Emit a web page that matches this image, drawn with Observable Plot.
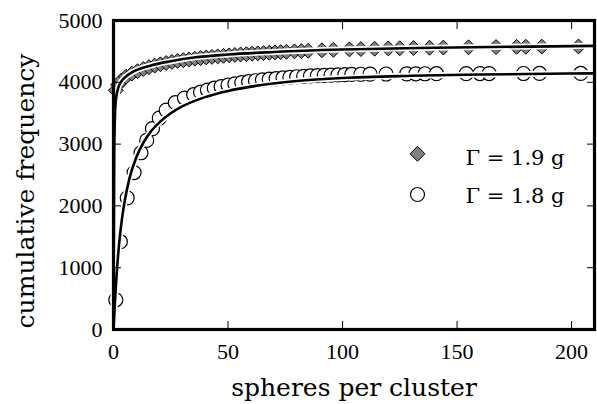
<!DOCTYPE html>
<html><head><meta charset="utf-8">
<script src="https://cdn.jsdelivr.net/npm/d3@7"></script>
<script src="https://cdn.jsdelivr.net/npm/@observablehq/plot@0.6"></script>
<style>
html,body{margin:0;padding:0;background:#fff;}
#chart svg{display:block;}
#chart g[aria-label="x-axis tick label"] text,
#chart g[aria-label="y-axis tick label"] text{font-family:"Liberation Serif","Times New Roman",serif;font-size:22px;}
</style>
</head><body><div id="chart"></div>
<script>
// Γ = 1.9 g (diamonds)
const sizes19 = [1, 2, 3.5, 5.5, 8, 10.5, 13, 15.5, 18, 20.5, 23, 25.5, 28, 30.5, 33, 35.5, 38, 40.5, 43, 45.5, 48, 50.5, 53, 55.5, 58, 60.5, 63, 65.5, 68, 70.5, 73, 75.5, 79, 82, 85, 91, 96, 103, 108, 114, 120, 125, 131, 138, 144, 155, 167, 176, 180, 187, 203];
const freq19 = [3870, 3960, 4030, 4090, 4140, 4180, 4215, 4245, 4270, 4292, 4312, 4330, 4345, 4358, 4370, 4382, 4392, 4402, 4411, 4420, 4428, 4436, 4443, 4450, 4456, 4462, 4468, 4473, 4478, 4483, 4488, 4493, 4500, 4505, 4510, 4518, 4525, 4533, 4538, 4543, 4548, 4551, 4555, 4559, 4562, 4567, 4571, 4574, 4575, 4577, 4580];
// Γ = 1.8 g (circles)
const sizes18 = [1, 3, 6, 9, 12, 14.5, 17, 20, 23, 27, 31, 35, 38, 41, 44, 47, 50, 53, 56, 59, 62, 65, 68, 71, 74, 77, 80, 83, 86, 89, 92, 95, 98, 101, 104, 108, 112, 119, 128, 132, 136, 141, 154, 160, 164, 179, 186, 204];
const freq18 = [480, 1420, 2130, 2540, 2860, 3060, 3250, 3420, 3550, 3670, 3745, 3800, 3840, 3875, 3905, 3930, 3955, 3975, 3995, 4010, 4025, 4040, 4050, 4060, 4070, 4080, 4090, 4097, 4103, 4108, 4113, 4117, 4120, 4124, 4127, 4130, 4132, 4134, 4136, 4137, 4138, 4139, 4140, 4141, 4141, 4142, 4143, 4144];
// fitted curves
const fitX19 = [0, 0.3, 0.6, 1, 2, 3, 5, 8, 12, 17, 25, 35, 50, 70, 100, 140, 210];
const fitY19 = [0, 2800, 3400, 3700, 3900, 3990, 4080, 4160, 4225, 4280, 4340, 4400, 4450, 4490, 4530, 4560, 4590];
const fitX18 = [0, 0.5, 1, 2, 3, 4, 5, 7, 10, 13, 16, 20, 25, 30, 40, 50, 60, 80, 100, 130, 160, 210];
const fitY18 = [0, 350, 680, 1200, 1580, 1870, 2100, 2450, 2790, 3020, 3190, 3350, 3500, 3610, 3760, 3860, 3930, 4020, 4070, 4105, 4125, 4145];
const xTicks = [0, 50, 100, 150, 200];
const yTicks = [0, 1000, 2000, 3000, 4000, 5000];
const seriesLabels = ["Γ = 1.9 g", "Γ = 1.8 g"];
const xLabel = "spheres per cluster";
const yLabel = "cumulative frequency";

const toRows = (xs, ys) => xs.map((x, i) => ({x, y: ys[i]}));
const d19 = toRows(sizes19, freq19), d18 = toRows(sizes18, freq18);
const f19 = toRows(fitX19, fitY19), f18 = toRows(fitX18, fitY18);
const labelFont = "DejaVu Serif";
const tickFont = {fontFamily: "Liberation Serif", fontSize: 22};

const chart = Plot.plot({
  width: 597, height: 404,
  marginLeft: 113, marginRight: 3, marginTop: 20, marginBottom: 75,
  style: {fontFamily: "Liberation Serif", fontSize: "22px", background: "white", color: "black"},
  x: {domain: [0, 210]},
  y: {domain: [0, 5000]},
  marks: [
    Plot.dot(d19, {x: "x", y: "y", symbol: "diamond2", r: 6.7, fill: "#808080", stroke: "black", strokeWidth: 1}),
    Plot.dot(d18, {x: "x", y: "y", symbol: "circle", r: 7, fill: "white", stroke: "black", strokeWidth: 1.2}),
    Plot.line(f19, {x: "x", y: "y", curve: "monotone-x", stroke: "white", strokeWidth: 6}),
    Plot.line(f19, {x: "x", y: "y", curve: "monotone-x", stroke: "black", strokeWidth: 2.6}),
    Plot.line(f18, {x: "x", y: "y", curve: "monotone-x", stroke: "white", strokeWidth: 6}),
    Plot.line(f18, {x: "x", y: "y", curve: "monotone-x", stroke: "black", strokeWidth: 2.6}),
    Plot.axisX(xTicks, {anchor: "bottom", tickSize: -8, tickPadding: 21.5, tickFormat: d => String(d), label: null, ...tickFont}),
    Plot.axisX(xTicks, {anchor: "top", tickSize: -8, tickFormat: () => "", label: null}),
    Plot.axisY(yTicks, {anchor: "left", tickSize: -8, tickPadding: 19, tickFormat: d => String(d), label: null, ...tickFont}),
    Plot.axisY(yTicks, {anchor: "right", tickSize: -8, tickFormat: () => "", label: null}),
    Plot.frame({stroke: "black", strokeWidth: 3.2}),
    Plot.text([xLabel], {text: d => d, frameAnchor: "bottom", textAnchor: "middle", lineAnchor: "middle", dy: 58, fontFamily: labelFont, fontSize: 25}),
    Plot.text([yLabel], {text: d => d, frameAnchor: "left", textAnchor: "middle", lineAnchor: "middle", rotate: -90, dx: -88, dy: 16, fontFamily: labelFont, fontSize: 25}),
    Plot.dot([0], {frameAnchor: "top-left", dx: 304, dy: 133.3, symbol: "diamond2", r: 6.7, fill: "#808080", stroke: "black", strokeWidth: 1}),
    Plot.dot([1], {frameAnchor: "top-left", dx: 304, dy: 174, symbol: "circle", r: 7, fill: "white", stroke: "black", strokeWidth: 1.2}),
    Plot.text([seriesLabels[0]], {text: d => d, frameAnchor: "top-left", dx: 352, dy: 137.5, textAnchor: "start", lineAnchor: "middle", fontFamily: labelFont, fontSize: 21}),
    Plot.text([seriesLabels[1]], {text: d => d, frameAnchor: "top-left", dx: 352, dy: 176, textAnchor: "start", lineAnchor: "middle", fontFamily: labelFont, fontSize: 21})
  ]
});
document.getElementById("chart").appendChild(chart);
</script>
</body></html>
